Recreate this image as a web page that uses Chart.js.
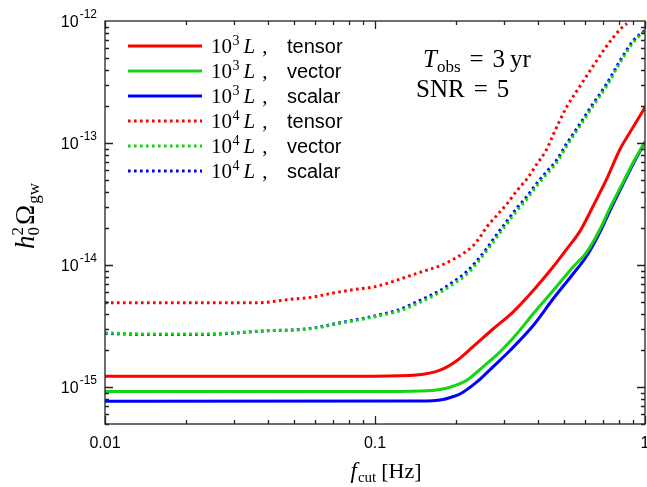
<!DOCTYPE html>
<html>
<head>
<meta charset="utf-8">
<script src="https://cdn.jsdelivr.net/npm/chart.js@4.4.0/dist/chart.umd.min.js"></script>
<style>
  body { margin: 0; background: #fff; }
  canvas { display: block; }
</style>
</head>
<body>
<canvas id="myChart" width="647" height="487"></canvas>
<script>
// f_cut [Hz] (x) and h0^2 Omega_gw (y)
const tensor3F = [0.01, 0.1, 0.1427, 0.1741, 0.2007, 0.2307, 0.2735, 0.3244, 0.3848, 0.4563, 0.5129, 0.5745, 0.642, 0.7208, 0.8079, 0.8799, 1.0];
const tensor3 = [1.233e-15, 1.233e-15, 1.26e-15, 1.38e-15, 1.65e-15, 2.15e-15, 3.0e-15, 4.13e-15, 6.17e-15, 9.65e-15, 1.354e-14, 1.9e-14, 3.04e-14, 5.06e-14, 8.9e-14, 1.226e-13, 1.96e-13];

const vector3F = [0.01, 0.1238, 0.1468, 0.1741, 0.1896, 0.2186, 0.2512, 0.2904, 0.3348, 0.3848, 0.4563, 0.5412, 0.6083, 0.6813, 0.742, 0.8288, 0.9029, 1.0];
const vector3 = [9.22e-16, 9.22e-16, 9.3e-16, 9.6e-16, 1.0e-15, 1.14e-15, 1.47e-15, 1.95e-15, 2.73e-15, 3.98e-15, 6.17e-15, 9.65e-15, 1.28e-14, 1.97e-14, 2.95e-14, 4.75e-14, 6.9e-14, 1.02e-13];

const scalar3F = [0.01, 0.1468, 0.1786, 0.19, 0.2064, 0.2379, 0.2735, 0.3162, 0.3848, 0.4563, 0.5412, 0.6083, 0.6813, 0.742, 0.8288, 0.9029, 1.0];
const scalar3 = [7.69e-16, 7.72e-16, 7.95e-16, 8.25e-16, 8.8e-16, 1.1e-15, 1.47e-15, 2.0e-15, 3.19e-15, 5.28e-15, 8.46e-15, 1.19e-14, 1.865e-14, 2.8e-14, 4.6e-14, 6.7e-14, 1.02e-13];

const tensor4F = [0.01, 0.0375, 0.0471, 0.0589, 0.0699, 0.0829, 0.1015, 0.1238, 0.1468, 0.1741, 0.1896, 0.2064, 0.2313, 0.2448, 0.2593, 0.2823, 0.3075, 0.3348, 0.3648, 0.3972, 0.4325, 0.4563, 0.5129, 0.5745, 0.642, 0.7208, 0.8079, 0.8577];
const tensor4 = [4.93e-15, 4.93e-15, 5.21e-15, 5.48e-15, 5.91e-15, 6.29e-15, 6.71e-15, 7.69e-15, 8.73e-15, 9.89e-15, 1.08e-14, 1.2e-14, 1.45e-14, 1.7e-14, 2.05e-14, 2.55e-14, 3.16e-14, 4.06e-14, 5.06e-14, 6.71e-14, 8.9e-14, 1.16e-13, 1.98e-13, 2.93e-13, 4.27e-13, 6.22e-13, 8.52e-13, 9.54e-13];

const dotF = [0.01, 0.01468, 0.02247, 0.02979, 0.0397, 0.0528, 0.0626, 0.0742, 0.088, 0.1043, 0.1238, 0.1468, 0.1741, 0.195, 0.2186, 0.2379, 0.2593, 0.2823, 0.3075, 0.3348, 0.3648, 0.3972, 0.4325, 0.471, 0.5129, 0.5745, 0.642, 0.7208, 0.8079, 0.9029, 1.0];
const vector4 = [2.79e-15, 2.73e-15, 2.73e-15, 2.79e-15, 2.91e-15, 2.96e-15, 3.1e-15, 3.34e-15, 3.58e-15, 3.86e-15, 4.24e-15, 4.96e-15, 5.99e-15, 7.0e-15, 8.4e-15, 1.03e-14, 1.31e-14, 1.69e-14, 2.17e-14, 2.78e-14, 3.47e-14, 4.46e-14, 5.56e-14, 6.93e-14, 9.47e-14, 1.38e-13, 2.01e-13, 2.93e-13, 4.55e-13, 6.63e-13, 8.36e-13];
const scalar4 = [2.76e-15, 2.7e-15, 2.7e-15, 2.77e-15, 2.9e-15, 2.97e-15, 3.12e-15, 3.38e-15, 3.62e-15, 3.92e-15, 4.35e-15, 5.15e-15, 6.2e-15, 7.3e-15, 8.85e-15, 1.08e-14, 1.37e-14, 1.78e-14, 2.28e-14, 2.92e-14, 3.64e-14, 4.68e-14, 5.84e-14, 7.27e-14, 9.9e-14, 1.44e-13, 2.1e-13, 3.05e-13, 4.72e-13, 6.85e-13, 8.4e-13];

// tick labels
const xTickValues = [0.01, 0.1, 1];
const xTickLabels = ['0.01', '0.1', '1'];
const yTickValues = [1e-15, 1e-14, 1e-13, 1e-12];
const yTickExps = ['-15', '-14', '-13', '-12'];

// legend
const legendPow = ['3', '3', '3', '4', '4', '4'];
const legendKind = ['tensor', 'vector', 'scalar', 'tensor', 'vector', 'scalar'];

const RED = '#ff0000', GREEN = '#14d414', BLUE = '#0000ff';
const SERIF = '"Liberation Serif", "DejaVu Serif", serif';
const SANS = '"Liberation Sans", Arial, sans-serif';

function pts(xs, ys) {
  return xs.map((v, i) => ({x: v, y: ys[i]}));
}

function series(label, xs, ys, color, dotted) {
  return {
    label: label,
    data: pts(xs, ys),
    borderColor: color,
    borderWidth: 3,
    borderDash: dotted ? [2.6, 3.4] : [],
    borderCapStyle: 'butt',
    pointRadius: 0,
    fill: false,
    cubicInterpolationMode: 'monotone',
    dotted: dotted
  };
}

const datasets = [
  series('10^3 L, tensor', tensor3F, tensor3, RED, false),
  series('10^3 L, vector', vector3F, vector3, GREEN, false),
  series('10^3 L, scalar', scalar3F, scalar3, BLUE, false),
  series('10^4 L, tensor', tensor4F, tensor4, RED, true),
  series('10^4 L, vector', dotF, vector4, GREEN, true),
  series('10^4 L, scalar', dotF, scalar4, BLUE, true)
];

// draws a row of text pieces, each with its own font and vertical shift
function drawRuns(ctx, x, y, runs) {
  for (const r of runs) {
    ctx.font = r.font;
    x += r.pre || 0;
    ctx.fillText(r.t, x, y + (r.dy || 0));
    x += ctx.measureText(r.t).width + (r.post || 0);
  }
  return x;
}
function runsWidth(ctx, runs) {
  let w = 0;
  for (const r of runs) {
    ctx.font = r.font;
    w += (r.pre || 0) + ctx.measureText(r.t).width + (r.post || 0);
  }
  return w;
}

const decor = {
  id: 'decor',
  afterDraw(chart) {
    const ctx = chart.ctx;
    const a = chart.chartArea;
    const xs = chart.scales.x, ys = chart.scales.y;
    ctx.save();

    // frame and inward ticks on all four sides
    ctx.strokeStyle = '#222';
    ctx.lineWidth = 1.3;
    ctx.strokeRect(a.left, a.top, a.right - a.left, a.bottom - a.top);
    ctx.beginPath();
    for (let e = -16; e <= -13; e++) {
      for (let k = 1; k <= 9; k++) {
        const v = k * Math.pow(10, e);
        if (v < ys.min * 0.999 || v > ys.max * 1.001) continue;
        const p = Math.round(ys.getPixelForValue(v)) + 0.5;
        const len = k === 1 ? 8 : 4;
        ctx.moveTo(a.left, p); ctx.lineTo(a.left + len, p);
        ctx.moveTo(a.right, p); ctx.lineTo(a.right - len, p);
      }
    }
    for (let e = -2; e <= 0; e++) {
      for (let k = 1; k <= 9; k++) {
        const v = k * Math.pow(10, e);
        if (v > xs.max * 1.001) continue;
        const p = Math.round(xs.getPixelForValue(v)) + 0.5;
        const len = k === 1 ? 8 : 4;
        ctx.moveTo(p, a.bottom); ctx.lineTo(p, a.bottom - len);
        ctx.moveTo(p, a.top); ctx.lineTo(p, a.top + len);
      }
    }
    ctx.stroke();

    ctx.fillStyle = '#000';
    ctx.textBaseline = 'alphabetic';

    // y tick labels 10^n
    yTickValues.forEach((v, i) => {
      const p = ys.getPixelForValue(v);
      const runs = [
        {t: '10', font: '16px ' + SANS},
        {t: yTickExps[i], font: '12px ' + SANS, dy: -9, pre: 1}
      ];
      const w = runsWidth(ctx, runs);
      drawRuns(ctx, 97 - w, p + 6, runs);
    });

    // x tick labels
    ctx.textAlign = 'center';
    ctx.font = '16px ' + SANS;
    xTickValues.forEach((v, i) => {
      ctx.fillText(xTickLabels[i], xs.getPixelForValue(v), 448);
    });
    ctx.textAlign = 'left';

    // x axis title
    const xt = [
      {t: 'f', font: 'italic 23px ' + SERIF},
      {t: 'cut', font: '15px ' + SERIF, dy: 4, pre: 1},
      {t: '[Hz]', font: '22px ' + SERIF, pre: 5}
    ];
    drawRuns(ctx, 386 - runsWidth(ctx, xt) / 2, 478, xt);

    // y axis title, rotated
    ctx.save();
    ctx.translate(34, 216);
    ctx.rotate(-Math.PI / 2);
    const hRuns = [{t: 'h', font: 'italic 27px ' + SERIF}];
    const yt0 = runsWidth(ctx, hRuns);
    ctx.font = '17px ' + SERIF;
    const subW = ctx.measureText('0').width;
    const restRuns = [{t: '\u03A9', font: '27px ' + SERIF, pre: 1}, {t: 'gw', font: '17px ' + SERIF, dy: 5, pre: 1}];
    const total = yt0 + subW + 1 + runsWidth(ctx, restRuns);
    let px = -total / 2;
    px = drawRuns(ctx, px, 0, hRuns);
    ctx.font = '17px ' + SERIF;
    ctx.fillText('0', px, 5);
    ctx.fillText('2', px, -11);
    px += subW + 1;
    drawRuns(ctx, px, 0, restRuns);
    ctx.restore();

    // legend
    chart.data.datasets.forEach((ds, i) => {
      const ly = 46 + i * 25;
      ctx.strokeStyle = ds.borderColor;
      ctx.lineWidth = 3;
      ctx.setLineDash(ds.dotted ? [2.6, 3.4] : []);
      ctx.beginPath();
      ctx.moveTo(128, ly);
      ctx.lineTo(202, ly);
      ctx.stroke();
      ctx.setLineDash([]);
      drawRuns(ctx, 211, ly + 7, [
        {t: '10', font: '21px ' + SERIF},
        {t: legendPow[i], font: '14px ' + SERIF, dy: -8, pre: 0.5},
        {t: 'L', font: 'italic 21px ' + SERIF, pre: 4},
        {t: ',', font: '21px ' + SERIF, pre: 7}
      ]);
      ctx.font = '20px ' + SANS;
      ctx.fillText(legendKind[i], 287, ly + 7);
    });

    // annotation
    drawRuns(ctx, 423, 67, [
      {t: 'T', font: 'italic 25px ' + SERIF},
      {t: 'obs', font: '17px ' + SERIF, dy: 5, pre: 0},
      {t: '=', font: '25px ' + SERIF, pre: 9},
      {t: '3', font: '25px ' + SERIF, pre: 9},
      {t: 'yr', font: '25px ' + SERIF, pre: 5}
    ]);
    drawRuns(ctx, 416, 97, [
      {t: 'SNR', font: '25px ' + SERIF},
      {t: '=', font: '25px ' + SERIF, pre: 9},
      {t: '5', font: '25px ' + SERIF, pre: 9}
    ]);

    ctx.restore();
  }
};

new Chart(document.getElementById('myChart').getContext('2d'), {
  type: 'line',
  data: {datasets: datasets},
  options: {
    responsive: false,
    animation: false,
    layout: {padding: {left: 0, right: 2, top: 21, bottom: 0}},
    plugins: {legend: {display: false}, tooltip: {enabled: false}},
    scales: {
      x: {
        type: 'logarithmic',
        min: 0.01,
        max: 1,
        grid: {display: false},
        border: {display: false},
        ticks: {display: false},
        afterFit: s => { s.height = 63; }
      },
      y: {
        type: 'logarithmic',
        min: 5e-16,
        max: 1e-12,
        grid: {display: false},
        border: {display: false},
        ticks: {display: false},
        afterFit: s => { s.width = 105; }
      }
    }
  },
  plugins: [decor]
});
</script>
</body>
</html>
